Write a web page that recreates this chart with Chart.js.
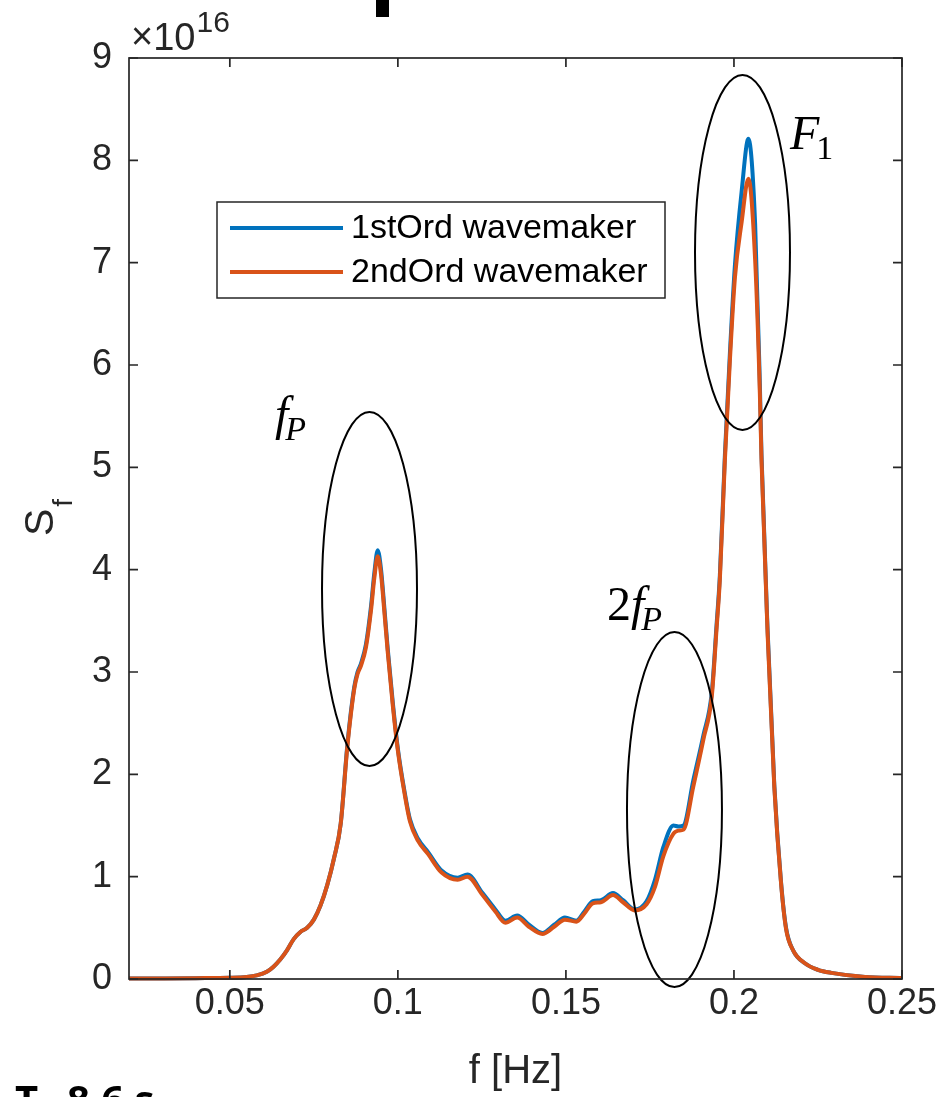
<!DOCTYPE html>
<html>
<head>
<meta charset="utf-8">
<script src="https://cdn.jsdelivr.net/npm/chart.js@4/dist/chart.umd.min.js"></script>
<style>
html,body{margin:0;padding:0;background:#ffffff;}
#wrap{position:relative;width:944px;height:1097px;}
</style>
</head>
<body>
<div id="wrap"><canvas id="c" width="944" height="1097"></canvas></div>
<script>
// ---- data (S_f in units of 1e16) ----
const freq = [0.020,0.030,0.040,0.050,0.055,0.058,0.061,0.063,0.065,0.067,0.069,0.071,0.073,0.075,0.077,0.079,0.081,0.083,0.085,0.087,0.088,0.089,0.0905,0.092,0.093,0.094,0.095,0.096,0.097,0.0985,0.100,0.102,0.1036,0.106,0.109,0.113,0.1178,0.1207,0.1252,0.129,0.132,0.1355,0.139,0.143,0.1465,0.1497,0.1531,0.1555,0.158,0.1604,0.164,0.167,0.1705,0.174,0.1765,0.179,0.182,0.1835,0.185,0.1879,0.1909,0.1934,0.1948,0.1958,0.1973,0.1988,0.2003,0.2023,0.2043,0.2063,0.2077,0.2082,0.210,0.212,0.214,0.2155,0.2176,0.221,0.225,0.229,0.239,0.250];
const s1stOrd = [0.005,0.006,0.008,0.012,0.02,0.035,0.07,0.12,0.19,0.28,0.39,0.46,0.50,0.58,0.72,0.92,1.18,1.52,2.30,2.85,3.00,3.08,3.27,3.64,3.97,4.19,4.00,3.62,3.22,2.70,2.25,1.83,1.56,1.37,1.24,1.06,0.99,1.02,0.84,0.68,0.57,0.62,0.53,0.45,0.53,0.60,0.57,0.66,0.76,0.77,0.84,0.77,0.68,0.76,0.97,1.29,1.50,1.49,1.50,1.94,2.38,2.80,3.45,3.94,5.12,6.12,6.98,7.70,8.21,7.38,5.82,5.12,3.42,1.90,0.95,0.50,0.28,0.156,0.09,0.06,0.02,0.01];
const s2ndOrd = [0.005,0.006,0.008,0.012,0.02,0.035,0.07,0.12,0.19,0.28,0.39,0.46,0.50,0.58,0.72,0.92,1.18,1.52,2.28,2.83,2.98,3.06,3.24,3.60,3.92,4.13,3.95,3.58,3.19,2.67,2.23,1.81,1.54,1.35,1.22,1.04,0.97,1.00,0.82,0.66,0.55,0.60,0.51,0.44,0.51,0.58,0.56,0.64,0.74,0.75,0.82,0.75,0.67,0.73,0.90,1.20,1.42,1.45,1.46,1.88,2.34,2.76,3.41,3.90,5.07,6.05,6.86,7.40,7.82,7.03,5.73,5.07,3.38,1.88,0.94,0.49,0.28,0.156,0.09,0.06,0.02,0.01];
const seriesLabels = ['1stOrd wavemaker', '2ndOrd wavemaker'];
const seriesColors = ['#0072BD', '#D95319'];

const xMin = 0.02, xMax = 0.25;
const yMin = 0, yMax = 9;
const xTickValues = [0.05, 0.1, 0.15, 0.2, 0.25];
const xTickLabels = ['0.05', '0.1', '0.15', '0.2', '0.25'];
const yTickValues = [0, 1, 2, 3, 4, 5, 6, 7, 8, 9];
const yTickLabels = ['0', '1', '2', '3', '4', '5', '6', '7', '8', '9'];
const yExponent = '16';
const xTitle = 'f [Hz]';
const yTitleMain = 'S';
const yTitleSub = 'f';

// annotation ellipses (centre and half-axes in data units)
const ellCx = [0.09156, 0.18230, 0.20254];
const ellCy = [3.811, 1.656, 7.10];
const ellRx = [0.01413, 0.01413, 0.01413];
const ellRy = [1.730, 1.735, 1.735];
// annotation labels (left x, baseline y in data units)
const annX = [0.06344, 0.16222, 0.21667];
const annY = [5.36, 3.51, 8.11];
const annMain = ['f', '2f', 'F'];
const annSub = ['P', 'P', '1'];
const footText = ['T', '8.6 s'];

const AX = '#262626';
const SANS = '"Liberation Sans", Arial, Helvetica, sans-serif';
const SERIF = '"Liberation Serif", "DejaVu Serif", serif';

const overlay = {
  id: 'overlay',
  afterDatasetsDraw(chart) {
    const ctx = chart.ctx, xs = chart.scales.x, ys = chart.scales.y;
    ctx.save();
    // ellipses
    ctx.strokeStyle = '#000';
    ctx.lineWidth = 2;
    for (let i = 0; i < ellCx.length; i++) {
      const cx = xs.getPixelForValue(ellCx[i]);
      const cy = ys.getPixelForValue(ellCy[i]);
      const rx = Math.abs(xs.getPixelForValue(ellCx[i] + ellRx[i]) - cx);
      const ry = Math.abs(ys.getPixelForValue(ellCy[i] + ellRy[i]) - cy);
      ctx.beginPath();
      ctx.ellipse(cx, cy, rx, ry, 0, 0, Math.PI * 2);
      ctx.stroke();
    }
    // labels
    ctx.fillStyle = '#000';
    ctx.textBaseline = 'alphabetic';
    ctx.textAlign = 'left';
    for (let i = 0; i < annX.length; i++) {
      const px = xs.getPixelForValue(annX[i]);
      const py = ys.getPixelForValue(annY[i]);
      const m = annMain[i];
      let w = 0;
      if (m.length > 1) {
        ctx.font = '48px ' + SERIF;
        ctx.fillText(m.slice(0, 1), px, py);
        w = ctx.measureText(m.slice(0, 1)).width;
      }
      ctx.font = 'italic 48px ' + SERIF;
      const last = m.slice(-1);
      ctx.fillText(last, px + w, py);
      w += ctx.measureText(last).width;
      if (/^[0-9]$/.test(annSub[i])) ctx.font = '34px ' + SERIF; else ctx.font = 'italic 34px ' + SERIF;
      ctx.fillText(annSub[i], px + w - 3, py + 10);
    }
    ctx.restore();
  },
  afterDraw(chart) {
    const ctx = chart.ctx, a = chart.chartArea, xs = chart.scales.x, ys = chart.scales.y;
    ctx.save();
    // box
    ctx.strokeStyle = AX;
    ctx.lineWidth = 1.7;
    ctx.strokeRect(a.left, a.top, a.right - a.left, a.bottom - a.top);
    // inward ticks on all sides
    const tl = 9;
    ctx.beginPath();
    xTickValues.forEach(v => {
      const x = xs.getPixelForValue(v);
      ctx.moveTo(x, a.bottom); ctx.lineTo(x, a.bottom - tl);
      ctx.moveTo(x, a.top); ctx.lineTo(x, a.top + tl);
    });
    yTickValues.forEach(v => {
      const y = ys.getPixelForValue(v);
      ctx.moveTo(a.left, y); ctx.lineTo(a.left + tl, y);
      ctx.moveTo(a.right, y); ctx.lineTo(a.right - tl, y);
    });
    ctx.stroke();

    // exponent label
    ctx.fillStyle = AX;
    ctx.textAlign = 'left';
    ctx.textBaseline = 'alphabetic';
    ctx.font = '38px ' + SANS;
    ctx.fillText('\u00D7', a.left + 2, a.top - 9);
    const wx = ctx.measureText('\u00D7').width;
    ctx.fillText('10', a.left + 2 + wx, a.top - 8);
    const w10 = ctx.measureText('10').width;
    ctx.font = '30px ' + SANS;
    ctx.fillText(yExponent, a.left + 3 + wx + w10, a.top - 26);

    // y title (rotated)
    ctx.save();
    ctx.translate(53, 536);
    ctx.rotate(-Math.PI / 2);
    ctx.font = '41px ' + SANS;
    ctx.fillText(yTitleMain, 0, 0);
    const wS = ctx.measureText(yTitleMain).width;
    ctx.font = '28px ' + SANS;
    ctx.fillText(yTitleSub, wS + 2, 19);
    ctx.restore();

    // x title
    ctx.textAlign = 'center';
    ctx.font = '40px ' + SANS;
    ctx.fillText(xTitle, (a.left + a.right) / 2, 1083);

    // legend
    const lx = 217, ly = 202, lw = 448, lh = 96;
    ctx.fillStyle = '#fff';
    ctx.fillRect(lx, ly, lw, lh);
    ctx.strokeStyle = AX;
    ctx.lineWidth = 1.5;
    ctx.strokeRect(lx, ly, lw, lh);
    ctx.font = '34px ' + SANS;
    ctx.textAlign = 'left';
    ctx.textBaseline = 'middle';
    chart.data.datasets.forEach((ds, i) => {
      const yy = ly + 26 + i * 44;
      ctx.strokeStyle = ds.borderColor;
      ctx.lineWidth = 4;
      ctx.beginPath();
      ctx.moveTo(lx + 13, yy); ctx.lineTo(lx + 126, yy);
      ctx.stroke();
      ctx.fillStyle = '#000';
      ctx.fillText(ds.label, lx + 134, yy + 1);
    });

    // black block at top and cut-off caption at bottom
    ctx.fillStyle = '#000';
    ctx.fillRect(376, 0, 13, 17);
    ctx.textBaseline = 'alphabetic';
    ctx.font = 'bold 40px "Open Sans", "DejaVu Sans", sans-serif';
    ctx.fillText(footText[0], 15, 1114);
    ctx.fillText(footText[1], 67, 1114);
    ctx.restore();
  }
};

const mk = (vals) => freq.map((f, i) => ({ x: f, y: vals[i] }));

new Chart(document.getElementById('c'), {
  type: 'scatter',
  data: {
    datasets: [
      { label: seriesLabels[0], data: mk(s1stOrd), borderColor: seriesColors[0], backgroundColor: seriesColors[0],
        showLine: true, pointRadius: 0, borderWidth: 4, cubicInterpolationMode: 'monotone', clip: 6, order: 2 },
      { label: seriesLabels[1], data: mk(s2ndOrd), borderColor: seriesColors[1], backgroundColor: seriesColors[1],
        showLine: true, pointRadius: 0, borderWidth: 4, cubicInterpolationMode: 'monotone', clip: 6, order: 1 }
    ]
  },
  options: {
    responsive: false,
    animation: false,
    devicePixelRatio: 1,
    layout: { padding: { top: 58, right: 42, left: 0, bottom: 0 } },
    plugins: { legend: { display: false }, tooltip: { enabled: false } },
    scales: {
      x: {
        type: 'linear', min: xMin, max: xMax,
        afterBuildTicks: s => { s.ticks = xTickValues.map(v => ({ value: v })); },
        afterFit: s => { s.height = 118; },
        ticks: { callback: (v, i) => xTickLabels[i], color: AX, font: { size: 36, family: SANS }, padding: 3, maxRotation: 0, autoSkip: false },
        grid: { display: false, drawTicks: false },
        border: { display: false }
      },
      y: {
        type: 'linear', min: yMin, max: yMax,
        afterBuildTicks: s => { s.ticks = yTickValues.map(v => ({ value: v })); },
        afterFit: s => { s.width = 129; },
        ticks: { callback: (v, i) => yTickLabels[i], color: AX, font: { size: 36, family: SANS }, padding: 17, autoSkip: false },
        grid: { display: false, drawTicks: false },
        border: { display: false }
      }
    }
  },
  plugins: [overlay]
});
</script>
</body>
</html>
